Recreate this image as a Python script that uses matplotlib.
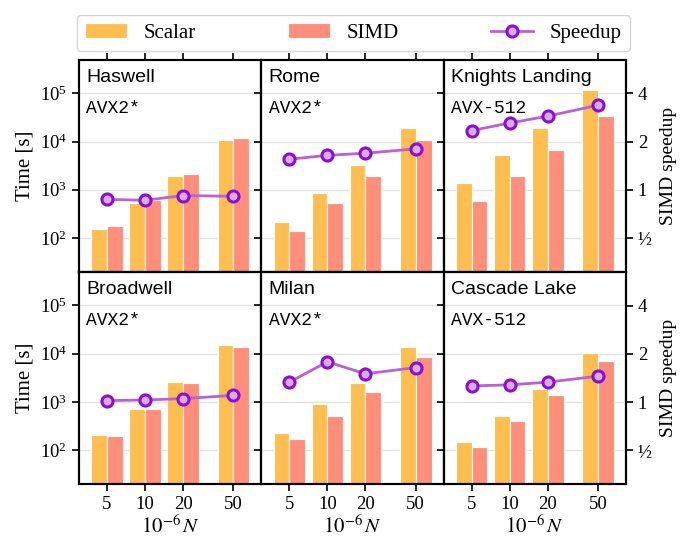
import matplotlib
matplotlib.use("Agg")
import matplotlib.pyplot as plt
from matplotlib.ticker import FixedLocator, FixedFormatter, NullLocator

# problem sizes (in units of 1e6)
n_vals = [5, 10, 20, 50]

machines = ["Haswell", "Rome", "Knights Landing", "Broadwell", "Milan", "Cascade Lake"]
isa_names = ["AVX2*", "AVX2*", "AVX-512", "AVX2*", "AVX2*", "AVX-512"]

# run times in seconds, one list per machine (same order as above)
scalar_times = [
    [151, 532, 1930, 10970],
    [219, 845, 3220, 18900],
    [1365, 5130, 19150, 114300],
    [205, 722, 2630, 15030],
    [222, 903, 2470, 13840],
    [145, 517, 1855, 10240],
]
simd_times = [
    [175, 600, 2090, 11890],
    [142, 525, 1905, 10640],
    [577, 1930, 6700, 33950],
    [199, 700, 2470, 13640],
    [167, 509, 1630, 8450],
    [114, 401, 1390, 7190],
]
speedups = [
    [0.87, 0.86, 0.92, 0.91],
    [1.55, 1.64, 1.69, 1.80],
    [2.34, 2.61, 2.88, 3.37],
    [1.02, 1.03, 1.05, 1.10],
    [1.33, 1.78, 1.50, 1.64],
    [1.26, 1.28, 1.33, 1.45],
]

speedup_ticks = [0.5, 1, 2, 4]
speedup_ticklabels = ["½", "1", "2", "4"]

scalar_color = "#ffbe50"
simd_color = "#ff8f7a"
line_color = "#b862d8"

plt.rcParams["font.family"] = ["Liberation Serif", "DejaVu Serif"]
plt.rcParams["mathtext.fontset"] = "stix"
plt.rcParams["axes.linewidth"] = 1.5

fig, axes = plt.subplots(2, 3, figsize=(6.84, 5.39), dpi=100)
fig.subplots_adjust(left=0.1155, right=0.915, top=0.8896, bottom=0.102,
                    wspace=0, hspace=0)

f = 10 ** 0.125  # bar width factor on the log x axis

for i, ax in enumerate(axes.flat):
    row, col = divmod(i, 3)
    ax.set_xscale("log")
    ax.set_yscale("log")
    ax.set_xlim(3.0, 83)
    ax.set_ylim(20, 5e5)
    ax.set_axisbelow(True)
    ax.grid(True, axis="y", which="major", color="#e3e3e3", linewidth=1.0)

    left_s = [x / f for x in n_vals]
    width_s = [x - x / f for x in n_vals]
    width_v = [x * f - x for x in n_vals]
    b1 = ax.bar(left_s, scalar_times[i], width=width_s, align="edge", bottom=1,
                color=scalar_color, edgecolor="white", linewidth=0.8, label="Scalar")
    b2 = ax.bar(n_vals, simd_times[i], width=width_v, align="edge", bottom=1,
                color=simd_color, edgecolor="white", linewidth=0.8, label="SIMD")

    ax.xaxis.set_major_locator(FixedLocator(n_vals))
    ax.xaxis.set_minor_locator(NullLocator())
    ax.xaxis.set_major_formatter(FixedFormatter([str(n) for n in n_vals]))
    ax.yaxis.set_major_locator(FixedLocator([1e2, 1e3, 1e4, 1e5]))
    ax.yaxis.set_minor_locator(NullLocator())
    ax.tick_params(direction="out", length=5, width=1.2, labelsize=13.5)

    if row == 0:
        ax.xaxis.tick_top()
        ax.tick_params(axis="x", labeltop=False)
    else:
        ax.set_xlabel(r"$10^{-6}\,N$", fontsize=15, labelpad=2)
    if col == 0:
        ax.set_ylabel("Time [s]", fontsize=15, labelpad=4)
    else:
        ax.tick_params(axis="y", left=False, labelleft=False)

    ax.text(0.04, 0.955, machines[i], transform=ax.transAxes, va="top", ha="left",
            fontsize=14, family=["Liberation Sans", "DejaVu Sans"])
    ax.text(0.04, 0.81, isa_names[i], transform=ax.transAxes, va="top", ha="left",
            fontsize=13, family=["Liberation Mono", "DejaVu Sans Mono"])

    ax2 = ax.twinx()
    ax2.set_yscale("log", base=2)
    ax2.set_ylim(2 ** -1.7, 2 ** 2.7)
    ln, = ax2.plot(n_vals, speedups[i], color=line_color, linewidth=2,
                   marker="o", markersize=8, markerfacecolor="#dcaaf0",
                   markeredgecolor="#8a10d0", markeredgewidth=2.2, label="Speedup")
    ax2.yaxis.set_major_locator(FixedLocator(speedup_ticks))
    ax2.yaxis.set_major_formatter(FixedFormatter(speedup_ticklabels))
    ax2.yaxis.set_minor_locator(NullLocator())
    ax2.tick_params(direction="out", length=5, width=1.2, labelsize=13.5)
    if col == 2:
        ax2.set_ylabel("SIMD speedup", fontsize=14, labelpad=6)
    else:
        ax2.tick_params(axis="y", right=False, labelright=False)

fig.legend([b1, b2, ln], ["Scalar", "SIMD", "Speedup"], ncol=3, mode="expand",
           loc="lower left", bbox_to_anchor=(0.1126, 0.905, 0.808, 0.07),
           fontsize=15, frameon=True, fancybox=True, edgecolor="#cccccc",
           handlelength=2.0, handletextpad=0.8, borderaxespad=0)

fig.savefig("out.png", dpi=100)
